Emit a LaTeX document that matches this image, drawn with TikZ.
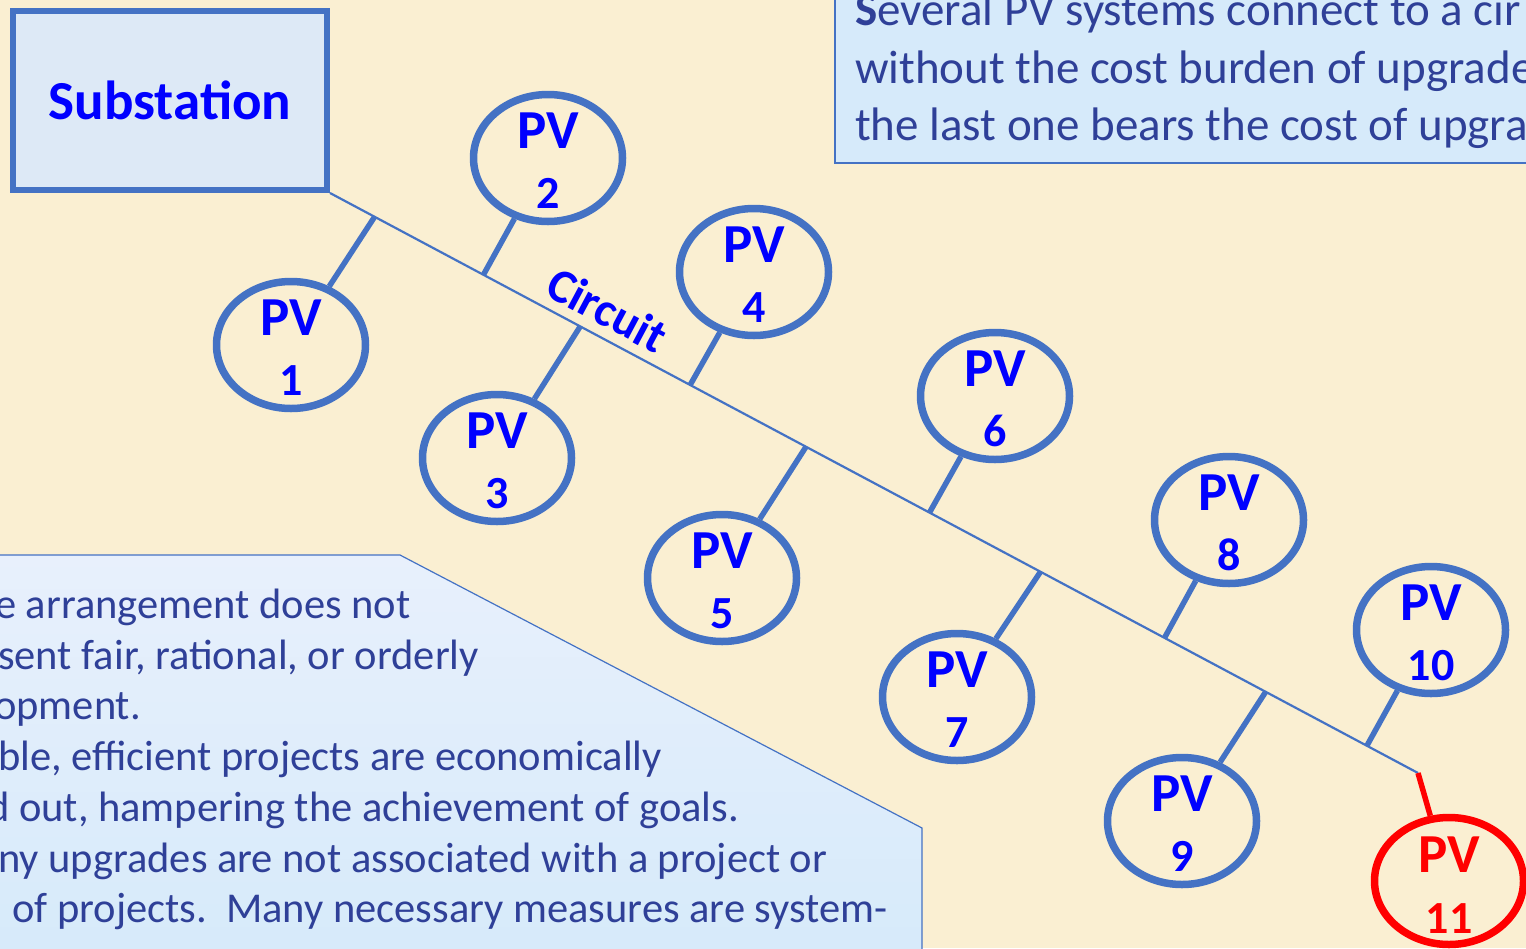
\documentclass[tikz,border=0pt]{standalone}
\usepackage{fontspec}
\setmainfont{Carlito}
\usepackage{tikz}
\usetikzlibrary{arrows.meta, positioning, shapes, calc, shapes.geometric}
\definecolor{parchment}{RGB}{250, 239, 210}
\definecolor{lineblue}{RGB}{68, 114, 196}
\definecolor{pvblue}{RGB}{0, 0, 255}
\definecolor{notetext}{RGB}{47, 64, 152}
\definecolor{notefill}{RGB}{214, 234, 250}
\definecolor{notetop}{RGB}{232, 240, 252}
\definecolor{subfill}{RGB}{221, 233, 246}
\tikzset{
    subbox/.style={draw=lineblue, fill=subfill, line width=6pt,
        minimum width=314pt, minimum height=179pt, text=pvblue,
        font=\fontsize{55}{66}\selectfont\bfseries},
    pvring/.style={ellipse, draw=lineblue, line width=7.5pt, fill=parchment,
        minimum width=149pt, minimum height=127pt, inner sep=0pt},
    pvname/.style={text=pvblue, inner sep=0pt, font=\fontsize{55}{64}\selectfont\bfseries},
    pvnum/.style={text=pvblue, inner sep=0pt, font=\fontsize{46}{54}\selectfont\bfseries},
    stub/.style={draw=lineblue, line width=5.5pt},
    notetxt/.style={text=notetext, inner sep=0pt, anchor=base west}}

\begin{document}
\begin{tikzpicture}[x=1pt, y=-1pt]
    \useasboundingbox (0,0) rectangle (1526,948);
    \clip (0,0) rectangle (1526,948);
    \fill [parchment] (0,0) rectangle (1526,948);
    \draw [lineblue, line width=2pt, fill=notefill] (835,-10) rectangle (1540,163);
    \node [notetxt, font=\fontsize{47}{57}\selectfont] (note1) at (855,25) {\textbf{S}everal PV systems connect to a cir};
    \node [notetxt, font=\fontsize{47}{57}\selectfont] (note2) at (855,83) {without the cost burden of upgrade};
    \node [notetxt, font=\fontsize{47}{57}\selectfont] (note3) at (855,140) {the last one bears the cost of upgra};
    \draw [lineblue, line width=1.2pt, top color=notetop, bottom color=notefill]
        (-10,555) -- (400,555) -- (922,828) -- (922,960) -- (-10,960) -- cycle;
    \foreach \i/\xx/\yy/\t in {1/-5/618/{e arrangement does not}, 2/-2/669/{sent fair, rational, or orderly},
        3/-6/719/{opment.}, 4/-2/770/{ble, efficient projects are economically},
        5/-13/821/{d out, hampering the achievement of goals.},
        6/-2/872/{ny upgrades are not associated with a project or},
        7/12/922/{of projects.\ \ Many necessary measures are system-}}
        \node [notetxt, font=\fontsize{42.5}{50}\selectfont] (why\i) at (\xx,\yy) {\t};
    \node [subbox] (sub) at (170,100.5) {Substation};
    \coordinate (cend) at (1418,773);
    \draw [lineblue, line width=2.2pt] (sub.south east) -- node [pos=0.243, sloped, above=6pt, text=pvblue,
        font=\fontsize{48}{56}\selectfont\bfseries] (circ) {Circuit} (cend);
    \foreach \n/\x/\y/\p in {1/291/345/0.041, 2/548/158/0.141, 3/497/458/0.230, 4/754/272/0.331,
        5/722/578/0.4375, 6/995/396/0.551, 7/957/697/0.653, 8/1229/520/0.767, 9/1182/821/0.860,
        10/1431/630/0.953}
    {
        \path (sub.south east) -- (cend) coordinate [pos=\p] (tap\n);
        \node [pvring] (pv\n) at (\x,\y) {};
        \draw [stub] (tap\n) -- (pv\n);
        \node [pvname, anchor=base] (pvn\n) at ([yshift=10pt]pv\n.center) {PV};
        \node [pvnum, anchor=base] (pvk\n) at ([yshift=-50pt]pv\n.center) {\n};
    }
    \node [pvring, draw=red, line width=7.5pt] (pv11) at (1449,881) {};
    \draw [stub, draw=red] (cend) -- (pv11);
    \node [pvname, anchor=base, text=red] (pvn11) at ([yshift=9pt]pv11.center) {PV};
    \node [pvnum, anchor=base, text=red] (pvk11) at ([yshift=-52pt]pv11.center) {11};
\end{tikzpicture}
\end{document}
